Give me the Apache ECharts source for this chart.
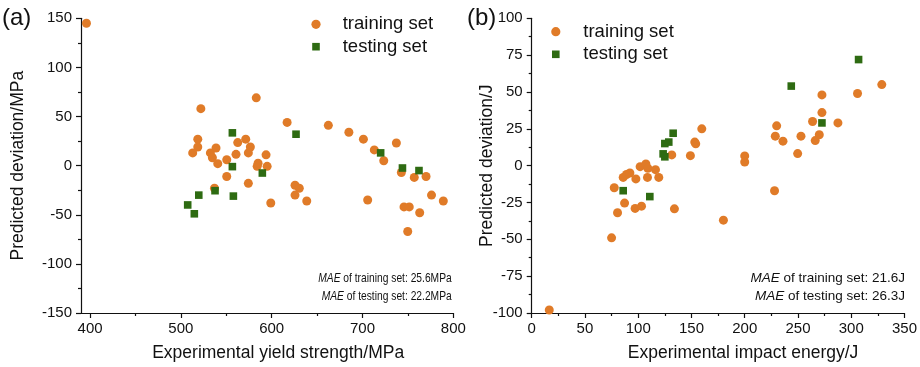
<!DOCTYPE html>
<html><head><meta charset="utf-8">
<script src="https://cdn.jsdelivr.net/npm/echarts@6/dist/echarts.min.js"></script>
<style>html,body{margin:0;padding:0;background:#fff}#c{width:920px;height:367px}</style>
</head><body><div id="c"></div>
<script>
// ---- Panel (a): yield strength ----
const trainA = [
  [396,145],[522,58],[583,69],[518.6,27],[518.6,19],[513,13],[532.5,13],[538.7,18],
  [534.7,8],[540.6,2],[550.5,6],[562.6,23.5],[571.4,27],[576.5,19],[574.3,13],[560.7,11.5],
  [584,-0.7],[585,2.5],[593.8,11],[595,-0.7],[550.5,-11],[537,-23],[574.3,-18],[599,-38],
  [617,44],[625.7,-20],[630.4,-23],[625.7,-30],[638.6,-36],[662.4,41],[685,34],[701,27],
  [705.7,-35],[713,16],[723.4,5],[737.3,23],[742.8,-7],[757,-12],[770,-11],[776,-30],
  [789,-36],[745.7,-42],[751.5,-42],[763,-48],[749.8,-67]
];
const testA = [
  [556.7,33.4],[556.7,-1],[537.6,-25.5],[519.7,-30],[507.5,-40],[514.8,-49],[557.8,-31],
  [589.7,-7.5],[626.8,32],[720,13],[744,-2.4],[762.2,-5]
];
// ---- Panel (b): impact energy ----
const trainB = [
  [16.5,-98],[75,-49],[77.5,-15],[80.6,-32],[87.2,-25.4],[85.9,-8],[89,-6],[92.2,-5],
  [97.8,-9],[97.1,-29],[103.1,-27.5],[101.8,-0.7],[107.2,1.1],[109,-1.8],[116.2,-2.7],
  [108.7,-8],[119.3,-8],[131.5,7.3],[134,-29.3],[149,6.8],[153.1,16],[154,14.8],[159.7,25],
  [180,-37],[200,6.6],[200,2.5],[228,-17],[228.7,20],[230,27],[235.9,16.6],[249.7,8.2],
  [252.8,20],[263.7,30],[266.2,17],[270,21],[272.5,36],[272.5,48],[287.5,29],[305.9,49],[328.7,55]
];
const testB = [
  [85.9,-17],[110.9,-21],[123.4,8],[125,6],[125,15],[128.7,16],[132.8,22],[243.7,54],[272.5,29],[306.9,72]
];
// ---- Axis ticks ----
const xTicksA = [400,500,600,700,800];
const xMinorA = [450,550,650,750];
const xTicksB = [0,50,100,150,200,250,300,350];
const seriesNames = ['training set','testing set'];
const maeA = ['25.6MPa','22.2MPa'];
const maeB = ['21.6J','26.3J'];

const FONT = 'Arial, "Liberation Sans", sans-serif';
const ORANGE = '#E07B28';
const GREEN = '#2E6B12';
const INK = '#111';
const lbl = {color:INK, fontSize:15, fontFamily:FONT};
const nameStyle = {color:INK, fontSize:17.5, fontFamily:FONT};
const line = {show:true, onZero:false, lineStyle:{color:INK, width:1.2}};
const tick = {show:true, inside:false, length:5, lineStyle:{color:INK, width:1.2}};
const minor = {show:true, splitNumber:2, length:3, lineStyle:{color:INK, width:1.2}};

const chart = echarts.init(document.getElementById('c'), null, {renderer:'canvas'});

function legendGraphics(cx, cy1, cy2, tx) {
  return [
    {type:'circle', shape:{cx:cx, cy:cy1, r:4.6}, style:{fill:ORANGE}},
    {type:'rect', shape:{x:cx-3.8, y:cy2-3.8, width:7.6, height:7.6}, style:{fill:GREEN}},
    {type:'text', x:tx, y:cy1, style:{text:seriesNames[0], fontSize:18.5, fontFamily:FONT, fill:INK, verticalAlign:'middle'}},
    {type:'text', x:tx, y:cy2, style:{text:seriesNames[1], fontSize:18.5, fontFamily:FONT, fill:INK, verticalAlign:'middle'}}
  ];
}
function maeText(x, y, setName, val, fs, sx) {
  return {type:'text', x:x, y:y, scaleX:sx, style:{text:'{i|MAE} of ' + setName + ': ' + val, align:'right', verticalAlign:'middle',
    fontSize:fs, fontFamily:FONT, fill:INK, rich:{i:{fontStyle:'italic', fontSize:fs, fontFamily:FONT, fill:INK}}}};
}

chart.setOption({
  animation:false,
  backgroundColor:'#fff',
  grid:[
    {left:81, top:18.3, width:372.3, height:295, containLabel:false},
    {left:531.7, top:18.3, width:373.3, height:295, containLabel:false}
  ],
  xAxis:[
    {type:'value', gridIndex:0, min:390, max:800, position:'bottom', splitLine:{show:false},
     axisLine:line, axisTick:Object.assign({}, tick, {customValues:xTicksA}),
     axisLabel:Object.assign({}, lbl, {customValues:xTicksA, margin:8}),
     name:'Experimental yield strength/MPa', nameLocation:'middle', nameGap:31, nameMoveOverlap:false,
     nameTextStyle:Object.assign({}, nameStyle, {padding:[0,0,0,22]})},
    {type:'value', gridIndex:0, min:390, max:800, position:'bottom', offset:0, splitLine:{show:false},
     axisLine:{show:false, onZero:false}, axisLabel:{show:false},
     axisTick:{show:true, length:3, customValues:xMinorA, lineStyle:{color:INK, width:1.2}}},
    {type:'value', gridIndex:1, min:0, max:350, interval:50, position:'bottom', splitLine:{show:false},
     axisLine:line, axisTick:tick, minorTick:minor,
     axisLabel:Object.assign({}, lbl, {margin:8}),
     name:'Experimental impact energy/J', nameLocation:'middle', nameGap:31, nameMoveOverlap:false,
     nameTextStyle:Object.assign({}, nameStyle, {padding:[0,0,0,50]})}
  ],
  yAxis:[
    {type:'value', gridIndex:0, min:-150, max:150, interval:50, splitLine:{show:false},
     axisLine:line, axisTick:tick, minorTick:minor,
     axisLabel:Object.assign({}, lbl, {margin:9}),
     name:'Predicted deviation/MPa', nameLocation:'middle', nameGap:54, nameMoveOverlap:false, nameTextStyle:nameStyle},
    {type:'value', gridIndex:1, min:-100, max:100, interval:25, splitLine:{show:false},
     axisLine:line, axisTick:tick, minorTick:minor,
     axisLabel:Object.assign({}, lbl, {margin:9}),
     name:'Predicted deviation/J', nameLocation:'middle', nameGap:36, nameMoveOverlap:false, nameTextStyle:nameStyle}
  ],
  series:[
    {name:seriesNames[0], type:'scatter', xAxisIndex:0, yAxisIndex:0, data:trainA,
     symbol:'circle', symbolSize:9, itemStyle:{color:ORANGE, opacity:1}},
    {name:seriesNames[1], type:'scatter', xAxisIndex:0, yAxisIndex:0, data:testA,
     symbol:'rect', symbolSize:7.6, itemStyle:{color:GREEN, opacity:1}},
    {name:seriesNames[0], type:'scatter', xAxisIndex:2, yAxisIndex:1, data:trainB,
     symbol:'circle', symbolSize:9, itemStyle:{color:ORANGE, opacity:1}},
    {name:seriesNames[1], type:'scatter', xAxisIndex:2, yAxisIndex:1, data:testB,
     symbol:'rect', symbolSize:7.6, itemStyle:{color:GREEN, opacity:1}}
  ],
  graphic:[].concat(
    legendGraphics(316, 24.3, 46.7, 342.7),
    legendGraphics(555.8, 31.7, 54.3, 583.3),
    [
      {type:'text', x:2, y:18, style:{text:'(a)', fontSize:24, fontFamily:FONT, fill:INK, verticalAlign:'middle'}},
      {type:'text', x:467, y:18, style:{text:'(b)', fontSize:24, fontFamily:FONT, fill:INK, verticalAlign:'middle'}},
      maeText(451.7, 278.3, 'training set', maeA[0], 13.5, 0.76),
      maeText(451.7, 296.5, 'testing set', maeA[1], 13.5, 0.76),
      maeText(905, 278.3, 'training set', maeB[0], 13.5, 1),
      maeText(905, 296.5, 'testing set', maeB[1], 13.5, 1)
    ]
  )
});
</script></body></html>
